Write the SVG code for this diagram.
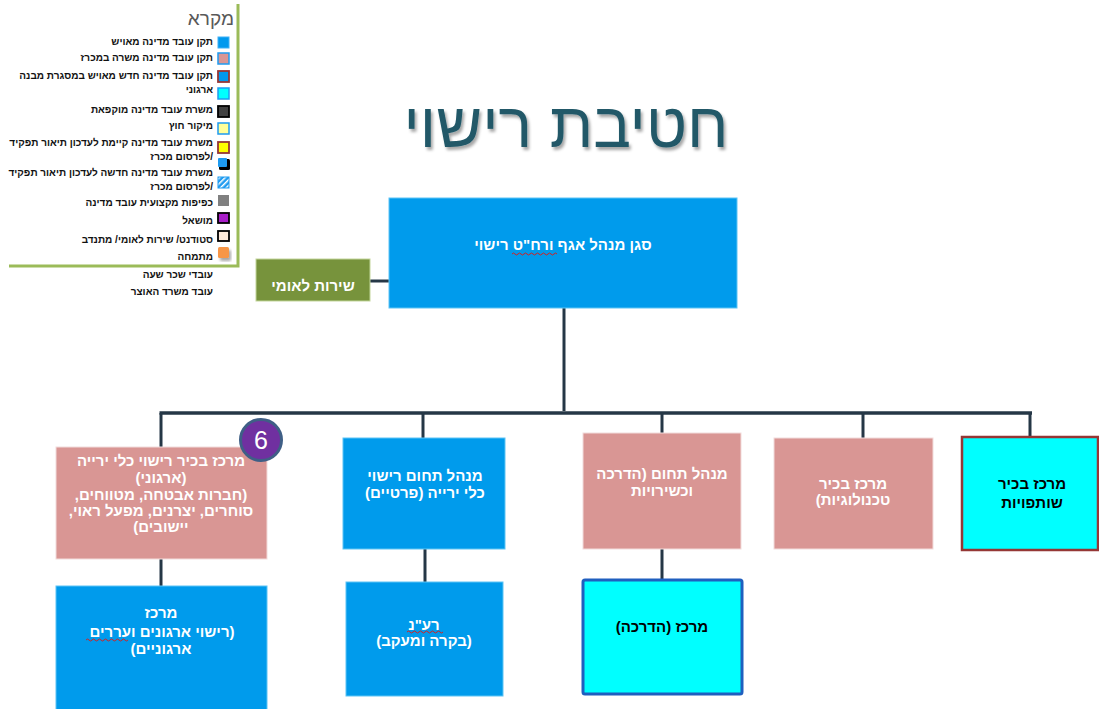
<svg xmlns="http://www.w3.org/2000/svg" width="1099" height="709" viewBox="0 0 1099 709">
<style>
.lg{font-family:"Liberation Sans",Arial,"DejaVu Sans",sans-serif;font-size:10px;font-weight:bold;fill:#111;text-anchor:end}
.bx{font-family:"Liberation Sans",Arial,"DejaVu Sans",sans-serif;font-size:15px;font-weight:bold;fill:#fff;text-anchor:middle;direction:rtl}
.bk{fill:#000}
.blue{fill:#009BEC;stroke:#5CC4F5;stroke-width:1}
.pink{fill:#D99694;stroke:#F2DCDB;stroke-width:1}
.con{stroke:#253746;stroke-width:3;fill:none}
.spell{stroke:#D42020;stroke-width:1;fill:none}
</style>
<defs>
<filter id="sh" x="-10%" y="-10%" width="130%" height="140%">
<feDropShadow dx="2" dy="3" stdDeviation="1.5" flood-color="#000" flood-opacity="0.35"/>
</filter>
<pattern id="hatch" width="4" height="4" patternUnits="userSpaceOnUse" patternTransform="rotate(45)">
<rect width="4" height="4" fill="#1E9BF0"/>
<rect width="1.5" height="4" fill="#fff"/>
</pattern>
</defs>
<rect width="1099" height="709" fill="#fff"/>

<g id="legend">
<polyline points="238,4 238,266 9,266" fill="none" stroke="#9BBB59" stroke-width="3"/>
<text x="234" y="25" style="font-family:'Liberation Sans',Arial,sans-serif;font-size:19px;fill:#595959;text-anchor:end">מקרא</text>
<rect x="218" y="37" width="11" height="11" fill="#0099EE" stroke="#3FB0F5" stroke-width="1"/>
<text class="lg" x="213" y="45">תקן עובד מדינה מאויש</text>
<rect x="218" y="53" width="11" height="11" fill="#D99694" stroke="#1E9BF0" stroke-width="1.5"/>
<text class="lg" x="213" y="61">תקן עובד מדינה משרה במכרז</text>
<rect x="218" y="71" width="11" height="11" fill="#0099EE" stroke="#953735" stroke-width="1.8"/>
<text class="lg" x="213" y="79">תקן עובד מדינה חדש מאויש במסגרת מבנה</text>
<text class="lg" x="213" y="93">ארגוני</text>
<rect x="218" y="88" width="11" height="11" fill="#00FFFF" stroke="#1E9BF0" stroke-width="1.5"/>
<rect x="218" y="106" width="11" height="11" fill="#404040" stroke="#000" stroke-width="1.8"/>
<text class="lg" x="213" y="113">משרת עובד מדינה מוקפאת</text>
<rect x="218" y="123" width="11" height="11" fill="#FFFF99" stroke="#1E9BF0" stroke-width="1.5"/>
<text class="lg" x="213" y="129">מיקור חוץ</text>
<rect x="218" y="142" width="11" height="11" fill="#FFFF00" stroke="#953735" stroke-width="1.8"/>
<text class="lg" x="213" y="146">משרת עובד מדינה קיימת לעדכון תיאור תפקיד</text>
<text class="lg" x="213" y="160">לפרסום מכרז/</text>
<rect x="219" y="159" width="11" height="11" rx="1.5" fill="#000"/>
<rect x="218" y="158" width="9" height="9" rx="1" fill="#1E9BF0"/>
<text class="lg" x="213" y="176">משרת עובד מדינה חדשה לעדכון תיאור תפקיד</text>
<text class="lg" x="213" y="190">לפרסום מכרז/</text>
<rect x="218" y="177" width="11" height="11" fill="url(#hatch)" stroke="#1E9BF0" stroke-width="1"/>
<rect x="218" y="195" width="11" height="11" fill="#808080"/>
<text class="lg" x="213" y="206">כפיפות מקצועית עובד מדינה</text>
<rect x="218" y="213" width="11" height="10" fill="#A81EC8" stroke="#000" stroke-width="1.8"/>
<text class="lg" x="213" y="224">מושאל</text>
<rect x="218" y="231" width="11" height="10" fill="#FDE9D9" stroke="#000" stroke-width="1.8"/>
<text class="lg" x="213" y="243">סטודנט/ שירות לאומי/ מתנדב</text>
<rect x="218" y="247" width="11" height="11" rx="1.5" fill="#F79646" filter="url(#sh)"/>
<text class="lg" x="213" y="260">מתמחה</text>
<text class="lg" x="213" y="278">עובדי שכר שעה</text>
<text class="lg" x="213" y="295">עובד משרד האוצר</text>
</g>

<g id="title">
<text x="566" y="147" filter="url(#sh)" style="font-family:'Liberation Sans',Arial,'DejaVu Sans',sans-serif;font-size:63px;fill:#215868;text-anchor:middle;direction:rtl">חטיבת רישוי</text>
</g>

<g id="connectors">
<line class="con" x1="370" y1="281" x2="389" y2="281"/>
<line class="con" x1="564" y1="308" x2="564" y2="411"/>
<line class="con" x1="159.5" y1="413" x2="1032" y2="413" style="stroke-width:3.5"/>
<line class="con" x1="161" y1="413" x2="161" y2="447"/>
<line class="con" x1="423" y1="413" x2="423" y2="438"/>
<line class="con" x1="662" y1="413" x2="662" y2="433"/>
<line class="con" x1="863" y1="413" x2="863" y2="438"/>
<line class="con" x1="1030" y1="413" x2="1030" y2="437"/>
<line class="con" x1="161" y1="559" x2="161" y2="586"/>
<line class="con" x1="425" y1="549" x2="425" y2="582"/>
<line class="con" x1="662" y1="549" x2="662" y2="579"/>
</g>

<g id="n-main">
<rect class="blue" x="389" y="198" width="348" height="110"/>
<text class="bx" x="563" y="250">סגן מנהל אגף ורח"ט רישוי</text>
<path class="spell" d="M512,254 q1.5,-2 3,0 t3,0 t3,0 t3,0 t3,0 t3,0 t3,0 t3,0 t3,0 t3,0 t3,0 t3,0 t3,0 t3,0 t3,0"/>
</g>

<g id="n-national">
<rect x="256" y="259" width="114" height="42" fill="#77933C" stroke="#C3D69B" stroke-width="1"/>
<text class="bx" x="313" y="291">שירות לאומי</text>
</g>

<g id="n-firearms-org">
<rect class="pink" x="56" y="447" width="211" height="112"/>
<text class="bx" x="161" y="466">מרכז בכיר רישוי כלי ירייה</text>
<text class="bx" x="161" y="483">(ארגוני)</text>
<text class="bx" x="161" y="500">(חברות אבטחה, מטווחים,</text>
<text class="bx" x="161" y="516">סוחרים, יצרנים, מפעל ראוי,</text>
<text class="bx" x="161" y="532">יישובים)</text>
</g>

<g id="badge-6">
<circle cx="261" cy="440" r="20.5" fill="#7030A0" stroke="#3F5F86" stroke-width="3"/>
<text x="261" y="449" style="font-family:'Liberation Sans',Arial,sans-serif;font-size:25px;fill:#fff;text-anchor:middle">6</text>
</g>

<g id="n-org-center">
<rect class="blue" x="56" y="586" width="211" height="130"/>
<text class="bx" x="161" y="618">מרכז</text>
<text class="bx" x="162" y="637">(רישוי ארגונים ועררים</text>
<text class="bx" x="161" y="654">ארגוניים)</text>
<path class="spell" d="M86,640 q1.5,-2 3,0 t3,0 t3,0 t3,0 t3,0 t3,0 t3,0 t3,0 t3,0 t3,0 t3,0 t3,0 t3,0 t3,0"/>
</g>

<g id="n-firearms-private">
<rect class="blue" x="343" y="438" width="162" height="111"/>
<text class="bx" x="425" y="481">מנהל תחום רישוי</text>
<text class="bx" x="425" y="498">כלי ירייה (פרטיים)</text>
</g>

<g id="n-ran">
<rect class="blue" x="346" y="582" width="157" height="114"/>
<text class="bx" x="424" y="630">רע"נ</text>
<text class="bx" x="424" y="646">(בקרה ומעקב)</text>
<path class="spell" d="M407,632 q1.5,-2 3,0 t3,0 t3,0 t3,0 t3,0 t3,0 t3,0 t3,0 t3,0 t3,0 t3,0 t3,0"/>
</g>

<g id="n-training-mgr">
<rect class="pink" x="583" y="433" width="158" height="116"/>
<text class="bx" x="662" y="479">מנהל תחום (הדרכה</text>
<text class="bx" x="662" y="496">וכשירויות</text>
</g>

<g id="n-training-center">
<rect x="583" y="580" width="159" height="114" rx="2" fill="#00FFFF" stroke="#1F5FBF" stroke-width="3"/>
<text class="bx bk" x="662" y="632">מרכז (הדרכה)</text>
</g>

<g id="n-tech">
<rect class="pink" x="774" y="438" width="159" height="111"/>
<text class="bx" x="853" y="489">מרכז בכיר</text>
<text class="bx" x="853" y="505">טכנולוגיות)</text>
</g>

<g id="n-partnerships">
<rect x="962" y="437" width="136" height="113" fill="#00FFFF" stroke="#953735" stroke-width="2.5"/>
<text class="bx bk" x="1032" y="489">מרכז בכיר</text>
<text class="bx bk" x="1032" y="508">שותפויות</text>
</g>
</svg>
